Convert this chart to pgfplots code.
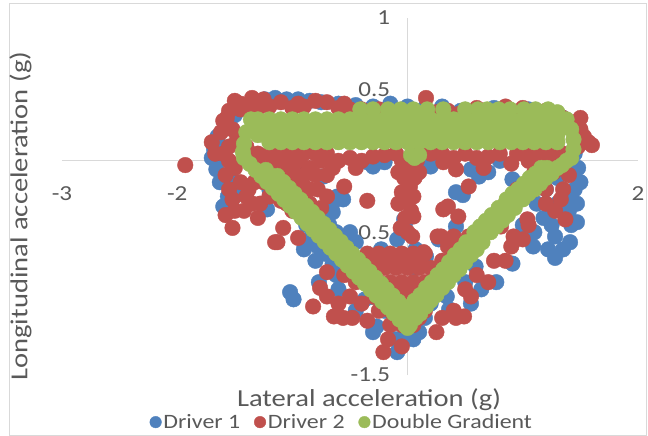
\documentclass[border=0pt]{standalone}
\usepackage{pgfplots}
\pgfplotsset{compat=1.18}
\usepackage{fontspec}
\setmainfont{Carlito}[FakeStretch=1.17]
\definecolor{tg}{HTML}{595959}
\definecolor{c1}{HTML}{4F81BD}
\definecolor{c2}{HTML}{C0504D}
\definecolor{c3}{HTML}{9BBB59}
\definecolor{axc}{HTML}{D9D9D9}
\begin{document}
\begin{tikzpicture}
\useasboundingbox (-62bp,-61bp) rectangle (586bp,375bp);
\draw[axc, line width=1bp] (-52bp,371bp) rectangle (584bp,-60bp);
\begin{axis}[
  width=576bp, height=357bp, scale only axis,
  xmin=-3, xmax=2, ymin=-1.5, ymax=1,
  axis x line=middle, axis y line=middle,
  axis line style={-, draw=axc, line width=1.2bp},
  xtick={-3,-2,-1,0,1,2}, ytick={-1.5,-1,-0.5,0,0.5,1},
  major tick length=0pt,
  hide obscured x ticks=false, hide obscured y ticks=false,
  /pgf/number format/assume math mode=true,
  tick label style={font=\fontsize{21.5}{25}\selectfont, text=tg},
  xticklabel style={yshift=-22bp},
  yticklabel style={xshift=-14bp},
  xlabel={Lateral acceleration (g)},
  ylabel={Longitudinal acceleration (g)},
  xlabel style={at={(axis description cs:0.533,-0.070)}, anchor=center, font=\fontsize{24.5}{28}\selectfont, text=tg},
  ylabel style={at={(axis description cs:-0.072,0.445)}, anchor=center, rotate=90, font=\fontsize{24.5}{28}\selectfont, text=tg},
  legend columns=3,
  legend style={at={(axis description cs:0.486,-0.132)}, anchor=center, draw=none, fill=none,
    font=\fontsize{20.5}{23}\selectfont, text=tg, inner sep=0pt,
    /tikz/every even column/.style={column sep=12bp}},
  legend image code/.code={\draw[#1, mark size=5.8bp] plot coordinates {(0bp,0bp)};},
  every axis plot/.append style={only marks, mark=*, mark size=7.8bp},
]
% Driver 1
\addplot[mark options={fill=c1, draw=c1, line width=0.4bp}] coordinates {
(-1.24,0.43)(-1.15,0.44)(-1.05,0.43)(-0.95,0.43)(-0.85,0.42)(-0.75,0.41)(-0.6,0.4)(-0.45,0.39)(-0.3,0.38)(-0.15,0.4)(0.0,0.38)(0.15,0.37)(0.3,0.38)(0.46,0.35)(0.6,0.36)(0.75,0.37)(0.9,0.35)(1.05,0.36)(1.2,0.34)(1.35,0.3)(-1.35,0.4)
(-1.65,0.17)(-1.62,0.1)(-1.66,-0.06)(-1.6,-0.32)(-1.55,0.25)(-1.5,0.32)(-1.5,-0.15)(-1.45,-0.22)(-1.58,0.02)(-1.52,-0.05)(-1.22,-0.34)(-1.3,-0.1)(-1.2,-0.2)(-1.1,-0.1)
(-1.7,0.02)(-1.68,0.08)(-1.63,-0.15)(-1.56,-0.25)
(-0.35,-0.01)(-0.2,-0.01)(0.2,0.0)(-0.3,-0.04)(0.2,-0.04)(0.62,-0.11)(0.42,-0.22)(0.91,-0.13)(1.38,-0.27)(-0.73,-0.11)(-0.61,-0.25)(-0.67,-0.32)(-0.56,-0.27)(-0.65,-0.36)(-0.03,-0.41)(-0.87,-0.06)(-0.99,-0.2)(0.55,-0.06)(0.48,-0.24)(0.8,0.0)(0.7,-0.08)
(-0.75,-0.4)(-0.68,-0.45)(-0.62,-0.5)(-0.7,-0.55)(-0.78,-0.6)(-0.6,-0.62)(-0.55,-0.7)(-0.65,-0.72)(-0.82,-0.5)(-0.88,-0.45)(-0.66,-0.32)(-0.45,-0.57)(-0.23,-0.62)(-0.09,-0.55)(-0.02,-0.43)(-0.5,-0.5)
(-0.85,-0.55)(-0.72,-0.65)(-0.58,-0.55)(-0.8,-0.7)(-0.9,-0.62)(-0.62,-0.8)
(0.16,-0.67)(0.27,-0.55)(0.42,-0.46)(0.59,-0.74)(0.77,-0.85)(0.81,-0.34)(1.09,-0.6)(1.28,-0.53)(1.41,-0.57)(1.47,-0.43)(1.35,-0.32)(0.91,-0.72)(0.64,-0.9)(0.36,-1.04)(0.34,-0.95)(0.23,-0.85)(0.07,-0.62)(0.07,-0.75)(0.06,-0.9)(0.05,-0.97)
(-1.02,-0.92)(-0.99,-0.97)(-0.27,-1.16)(-0.09,-1.34)(0.05,-1.25)(-0.37,-0.97)(-0.77,-0.85)(-0.3,-0.8)(-0.15,-0.9)(-0.2,-1.05)(0.0,-1.2)(0.15,-1.1)(-0.4,-0.7)
(0.1,-1.2)(-0.1,-1.25)(0.2,-1.0)(0.3,-0.9)(0.5,-0.85)(0.55,-1.0)(-0.6,-0.9)(-0.45,-1.05)(-0.3,-1.2)
(1.15,-0.13)(1.2,-0.2)(1.3,-0.12)(1.38,-0.05)(1.45,-0.2)(1.47,-0.3)(1.42,-0.45)(1.35,-0.62)(1.25,-0.45)(1.18,-0.4)(1.1,-0.5)(1.0,-0.45)(1.22,-0.62)(1.45,0.05)(1.48,0.12)
(1.3,-0.3)(1.4,-0.35)(1.12,-0.3)(1.28,-0.68)(1.48,-0.05)(1.5,-0.15)
};
\addlegendentry{Driver 1}
% Driver 2
\addplot[mark options={fill=c2, draw=c2, line width=0.4bp}] coordinates {
(-1.93,-0.03)(-1.7,0.13)(-1.67,0.05)(-1.62,0.2)(-1.57,0.3)(-1.5,0.42)(-1.45,0.36)(-1.58,-0.1)(-1.55,-0.2)(-1.52,-0.27)(-1.5,-0.05)(-1.45,-0.15)(-1.4,-0.25)(-1.35,-0.3)(-1.55,0.0)(-1.6,0.05)(-1.48,0.15)(-1.52,0.22)(-1.52,-0.47)(-1.15,-0.57)(-1.58,-0.38)(-1.3,-0.4)
(-1.55,0.1)(-1.4,0.1)(-1.5,-0.35)(-1.42,-0.35)(-1.38,-0.2)(-1.33,-0.15)(-1.28,-0.3)(-1.35,0.0)(-1.6,0.28)(-1.55,0.35)
(-1.45,0.4)(-1.35,0.44)(-1.25,0.43)(-1.1,0.41)(-0.95,0.4)(-0.8,0.42)(-0.7,0.41)(-0.55,0.4)(-0.4,0.36)(-0.25,0.36)(0.16,0.44)(0.35,0.35)(0.6,0.37)(0.85,0.38)(1.0,0.37)(1.2,0.35)(1.35,0.3)(1.5,0.22)(1.57,0.13)(1.6,0.11)(1.48,0.1)(1.5,0.3)
(-1.4,0.38)(-1.3,0.37)(-1.2,0.38)(-1.0,0.37)(-0.9,0.38)(-0.6,0.37)(-0.5,0.36)(-0.3,0.33)(0.0,0.33)(0.1,0.33)(0.25,0.34)(0.45,0.33)(0.7,0.34)(0.95,0.33)(1.1,0.35)(1.3,0.33)(1.4,0.27)(1.45,0.2)(1.53,0.17)
(-1.3,0.05)(-1.2,0.05)(-1.1,0.05)(-1.0,0.05)(-0.9,0.05)(-0.8,0.05)(-1.3,-0.05)(-1.2,-0.05)(-1.1,-0.05)(-1.0,-0.07)(-0.9,-0.1)(-1.25,-0.15)(-1.15,-0.15)(-1.05,-0.18)(-0.95,-0.25)(-1.2,-0.25)(-1.1,-0.28)(-1.0,-0.35)(-0.85,-0.3)(-0.78,-0.2)(-0.8,-0.38)(-0.88,-0.42)(-0.75,-0.45)(-0.7,-0.1)(-0.6,0.0)(-0.5,0.02)(-0.4,0.0)(-0.3,0.03)(-0.2,0.04)(-0.7,0.05)(-0.45,-0.05)(-0.35,-0.28)(-0.55,-0.18)(-0.9,-0.18)(-0.8,-0.1)
(-1.3,0.0)(-1.2,-0.1)(-1.1,-0.12)(-1.0,-0.15)(-0.95,0.0)(-0.85,-0.05)(-0.75,0.0)(-0.65,-0.05)(-0.9,-0.32)(-0.85,-0.2)(-1.05,-0.3)(-0.7,-0.25)(-0.75,-0.33)(-1.15,0.0)(-1.05,0.0)
(-0.05,0.0)(0.0,-0.05)(-0.03,-0.12)(0.02,-0.18)(-0.05,-0.22)(0.0,-0.28)(0.03,-0.35)(-0.02,-0.4)(0.05,-0.39)(-0.06,-0.47)(0.04,-0.53)(0.08,0.0)(0.1,-0.08)(0.1,0.05)
(-0.1,0.05)(-0.08,-0.08)(0.06,-0.12)(0.05,-0.25)(-0.08,-0.3)
(0.31,-0.01)(0.42,-0.06)(0.53,-0.18)(0.66,-0.05)(0.31,-0.34)(0.44,-0.39)(0.35,-0.32)(0.53,-0.53)(0.26,-0.53)(0.14,-0.64)(0.81,-0.46)(0.92,-0.53)(1.04,-0.41)(1.37,-0.41)(1.33,-0.27)(1.27,-0.08)(0.2,0.05)(0.5,0.05)(0.8,0.05)(0.9,-0.02)
(0.3,0.05)(0.4,0.02)(0.6,0.02)(0.7,0.03)(0.95,0.05)(1.1,0.05)(1.2,0.05)(1.25,0.08)
(1.05,0.0)(1.15,0.0)(1.25,0.0)(1.3,-0.05)(1.1,-0.08)(1.2,-0.1)(1.2,-0.2)(1.1,-0.2)(1.0,0.05)(1.35,0.05)(1.05,-0.15)
(1.4,-0.1)(1.35,-0.2)(1.28,-0.35)(1.0,-0.55)(0.85,-0.7)(0.7,-0.85)(0.55,-0.95)(0.4,-1.05)
(0.95,-0.2)(0.85,-0.3)(0.75,-0.4)(0.65,-0.5)(0.55,-0.6)(0.45,-0.7)(0.35,-0.8)(0.25,-0.9)(0.15,-1.0)(0.6,-0.8)(0.5,-0.9)(0.75,-0.7)(0.9,-0.6)(1.05,-0.45)(1.2,-0.3)(0.61,-0.53)(0.72,-0.46)(0.35,-0.6)(0.45,-0.65)(0.3,-0.7)(0.38,-0.78)
(-0.35,-0.65)(-0.25,-0.65)(-0.15,-0.65)(-0.05,-0.65)(0.05,-0.65)(0.15,-0.65)
(-0.4,-0.75)(-0.3,-0.75)(-0.2,-0.75)(-0.1,-0.75)(0.0,-0.75)(0.1,-0.75)(0.2,-0.75)
(-0.35,-0.85)(-0.25,-0.85)(-0.15,-0.85)(-0.05,-0.85)(0.05,-0.85)(0.15,-0.85)(0.25,-0.85)
(-0.3,-0.95)(-0.2,-0.95)(-0.1,-0.95)(0.0,-0.95)(0.1,-0.95)(0.2,-0.95)
(-0.25,-1.05)(-0.15,-1.05)(-0.05,-1.05)(0.05,-1.05)(0.15,-1.05)
(-0.15,-1.15)(-0.05,-1.15)(0.05,-1.15)
(-0.3,-0.7)(-0.2,-0.7)(-0.1,-0.7)(0.0,-0.7)(0.1,-0.7)(-0.3,-0.9)(-0.2,-0.9)(-0.1,-0.9)(0.0,-0.9)(0.1,-0.9)(0.2,-0.9)(-0.2,-1.0)(-0.1,-1.0)(0.0,-1.0)(0.1,-1.0)(-0.1,-1.1)(0.0,-1.1)(0.1,-1.1)
(-1.13,-0.57)(-0.95,-0.54)(-1.08,-0.47)(-0.82,-1.02)(-0.64,-1.09)(-0.76,-0.89)(-0.56,-1.1)(-0.5,-0.95)(-0.45,-0.85)(-0.55,-0.8)(-0.4,-1.0)(-0.21,-1.34)(-0.17,-1.25)(0.49,-1.09)(0.42,-1.1)(0.3,-1.1)(0.25,-1.2)(-0.05,-1.3)(0.0,-0.5)(0.29,-0.53)(0.4,-0.53)(-0.6,-0.6)(-0.5,-0.7)
(-0.7,-0.95)(-0.6,-1.0)(-0.48,-1.1)(-0.35,-1.12)(-0.7,-0.78)
};
\addlegendentry{Driver 2}
% Double Gradient
\addplot[mark options={fill=c3, draw=c3, line width=0.4bp}] coordinates {
(-1.3,0.29)(-1.2,0.29)(-1.1,0.29)(-1.0,0.29)(-0.9,0.29)(-0.8,0.29)(-0.7,0.29)(-0.6,0.29)(-0.5,0.29)(-0.4,0.29)(-0.3,0.29)(-0.2,0.29)(-0.1,0.29)(0.0,0.29)(0.1,0.29)(0.2,0.29)(0.3,0.29)(0.4,0.29)(0.5,0.29)(0.6,0.29)(0.7,0.29)(0.8,0.29)(0.9,0.29)(1.0,0.29)(1.1,0.29)(1.2,0.29)(1.3,0.29)
(-1.35,0.235)(-1.25,0.235)(-1.15,0.235)(-1.05,0.235)(-0.95,0.235)(-0.85,0.235)(-0.75,0.235)(-0.65,0.235)(-0.55,0.235)(-0.45,0.235)(-0.35,0.235)(-0.25,0.235)(-0.15,0.235)(-0.05,0.235)(0.05,0.235)(0.15,0.235)(0.25,0.235)(0.35,0.235)(0.45,0.235)(0.55,0.235)(0.65,0.235)(0.75,0.235)(0.85,0.235)(0.95,0.235)(1.05,0.235)(1.15,0.235)(1.25,0.235)(1.35,0.235)
(-1.3,0.18)(-1.2,0.18)(-1.1,0.18)(-1.0,0.18)(-0.9,0.18)(-0.8,0.18)(-0.7,0.18)(-0.6,0.18)(-0.5,0.18)(-0.4,0.18)(-0.3,0.18)(-0.2,0.18)(-0.1,0.18)(0.0,0.18)(0.1,0.18)(0.2,0.18)(0.3,0.18)(0.4,0.18)(0.5,0.18)(0.6,0.18)(0.7,0.18)(0.8,0.18)(0.9,0.18)(1.0,0.18)(1.1,0.18)(1.2,0.18)(1.3,0.18)
(-1.2,0.13)(-1.1,0.13)(-1.0,0.13)(-0.9,0.13)(-0.8,0.13)(-0.7,0.13)(-0.6,0.13)(-0.5,0.13)(-0.4,0.13)(-0.3,0.13)(-0.2,0.13)(-0.1,0.13)(0.0,0.13)(0.1,0.13)(0.2,0.13)(0.3,0.13)(0.4,0.13)(0.5,0.13)(0.6,0.13)(0.7,0.13)(0.8,0.13)(0.9,0.13)(1.0,0.13)(1.1,0.13)(1.2,0.13)(1.3,0.13)
(-0.41,0.36)(-0.3,0.36)(-0.17,0.36)(-0.06,0.36)(0.05,0.36)(0.17,0.36)(0.31,0.36)(0.5,0.36)(0.61,0.36)(0.69,0.36)(0.79,0.36)(0.89,0.36)(1.01,0.36)(1.11,0.36)(1.22,0.36)(1.3,0.34)
(0.03,0.04)(0.1,0.04)(0.06,0.02)
(-1.36,0.29)(-1.4,0.2)(-1.42,0.12)(-1.43,0.06)
(1.38,0.29)(1.42,0.22)(1.44,0.15)(1.44,0.08)(1.42,0.02)
(-1.42,0.02)(-1.37,-0.022)(-1.32,-0.064)(-1.27,-0.106)(-1.22,-0.148)(-1.17,-0.19)(-1.12,-0.231)(-1.07,-0.273)(-1.02,-0.315)(-0.97,-0.357)(-0.92,-0.399)(-0.87,-0.441)(-0.82,-0.483)(-0.77,-0.525)(-0.72,-0.567)(-0.67,-0.609)(-0.62,-0.65)(-0.57,-0.692)(-0.52,-0.734)(-0.47,-0.776)(-0.42,-0.818)(-0.37,-0.86)(-0.32,-0.902)(-0.27,-0.944)(-0.22,-0.986)(-0.17,-1.027)(-0.12,-1.069)(-0.07,-1.111)(-0.02,-1.153)(0.0,-1.17)
(-1.23,-0.064)(-1.18,-0.106)(-1.13,-0.148)(-1.08,-0.19)(-1.03,-0.231)(-0.98,-0.273)(-0.93,-0.315)(-0.88,-0.357)(-0.83,-0.399)(-0.78,-0.441)(-0.73,-0.483)(-0.68,-0.525)(-0.63,-0.567)(-0.58,-0.609)(-0.53,-0.65)(-0.48,-0.692)(-0.43,-0.734)(-0.38,-0.776)(-0.33,-0.818)(-0.28,-0.86)(-0.23,-0.902)(-0.18,-0.944)(-0.13,-0.986)(-0.08,-1.027)(-0.03,-1.069)
(-1.13,-0.106)(-1.08,-0.148)(-1.03,-0.19)(-0.98,-0.231)(-0.93,-0.273)(-0.88,-0.315)(-0.83,-0.357)(-0.78,-0.399)(-0.73,-0.441)(-0.68,-0.483)(-0.63,-0.525)(-0.58,-0.567)(-0.53,-0.609)(-0.48,-0.65)(-0.43,-0.692)(-0.38,-0.734)(-0.33,-0.776)(-0.28,-0.818)(-0.23,-0.86)(-0.18,-0.902)(-0.13,-0.944)(-0.08,-0.986)(-0.03,-1.027)
(0.02,-1.15)(0.07,-1.10)(0.11,-1.07)(0.16,-1.02)(0.2,-0.98)(0.25,-0.94)(0.3,-0.89)(0.35,-0.85)(0.4,-0.80)(0.45,-0.76)(0.5,-0.71)(0.55,-0.66)(0.6,-0.62)(0.65,-0.57)(0.72,-0.5)(0.77,-0.46)(0.82,-0.42)(0.87,-0.38)(0.93,-0.33)(1.0,-0.27)(1.05,-0.23)(1.1,-0.2)(1.15,-0.16)(1.2,-0.12)(1.25,-0.09)(1.3,-0.05)(1.34,-0.03)(1.38,0.0)
(-0.02,-1.10)(0.02,-1.07)(0.07,-1.02)(0.11,-0.98)(0.16,-0.94)(0.21,-0.89)(0.26,-0.85)(0.31,-0.80)(0.36,-0.76)(0.41,-0.71)(0.46,-0.66)(0.51,-0.62)(0.56,-0.57)(0.63,-0.5)(0.68,-0.46)(0.73,-0.42)(0.78,-0.38)(0.84,-0.33)(0.91,-0.27)(0.96,-0.23)(1.01,-0.2)(1.06,-0.16)(1.11,-0.12)(1.16,-0.09)(1.21,-0.05)
(0.02,-1.02)(0.06,-0.98)(0.11,-0.94)(0.16,-0.89)(0.21,-0.85)(0.26,-0.80)(0.31,-0.76)(0.36,-0.71)(0.41,-0.66)(0.46,-0.62)(0.51,-0.57)(0.58,-0.5)(0.63,-0.46)(0.68,-0.42)(0.73,-0.38)(0.79,-0.33)(0.86,-0.27)(0.91,-0.23)(0.96,-0.2)(1.01,-0.16)(1.06,-0.12)(1.11,-0.09)(1.16,-0.05)
};
\addlegendentry{Double Gradient}
\end{axis}
\end{tikzpicture}
\end{document}
